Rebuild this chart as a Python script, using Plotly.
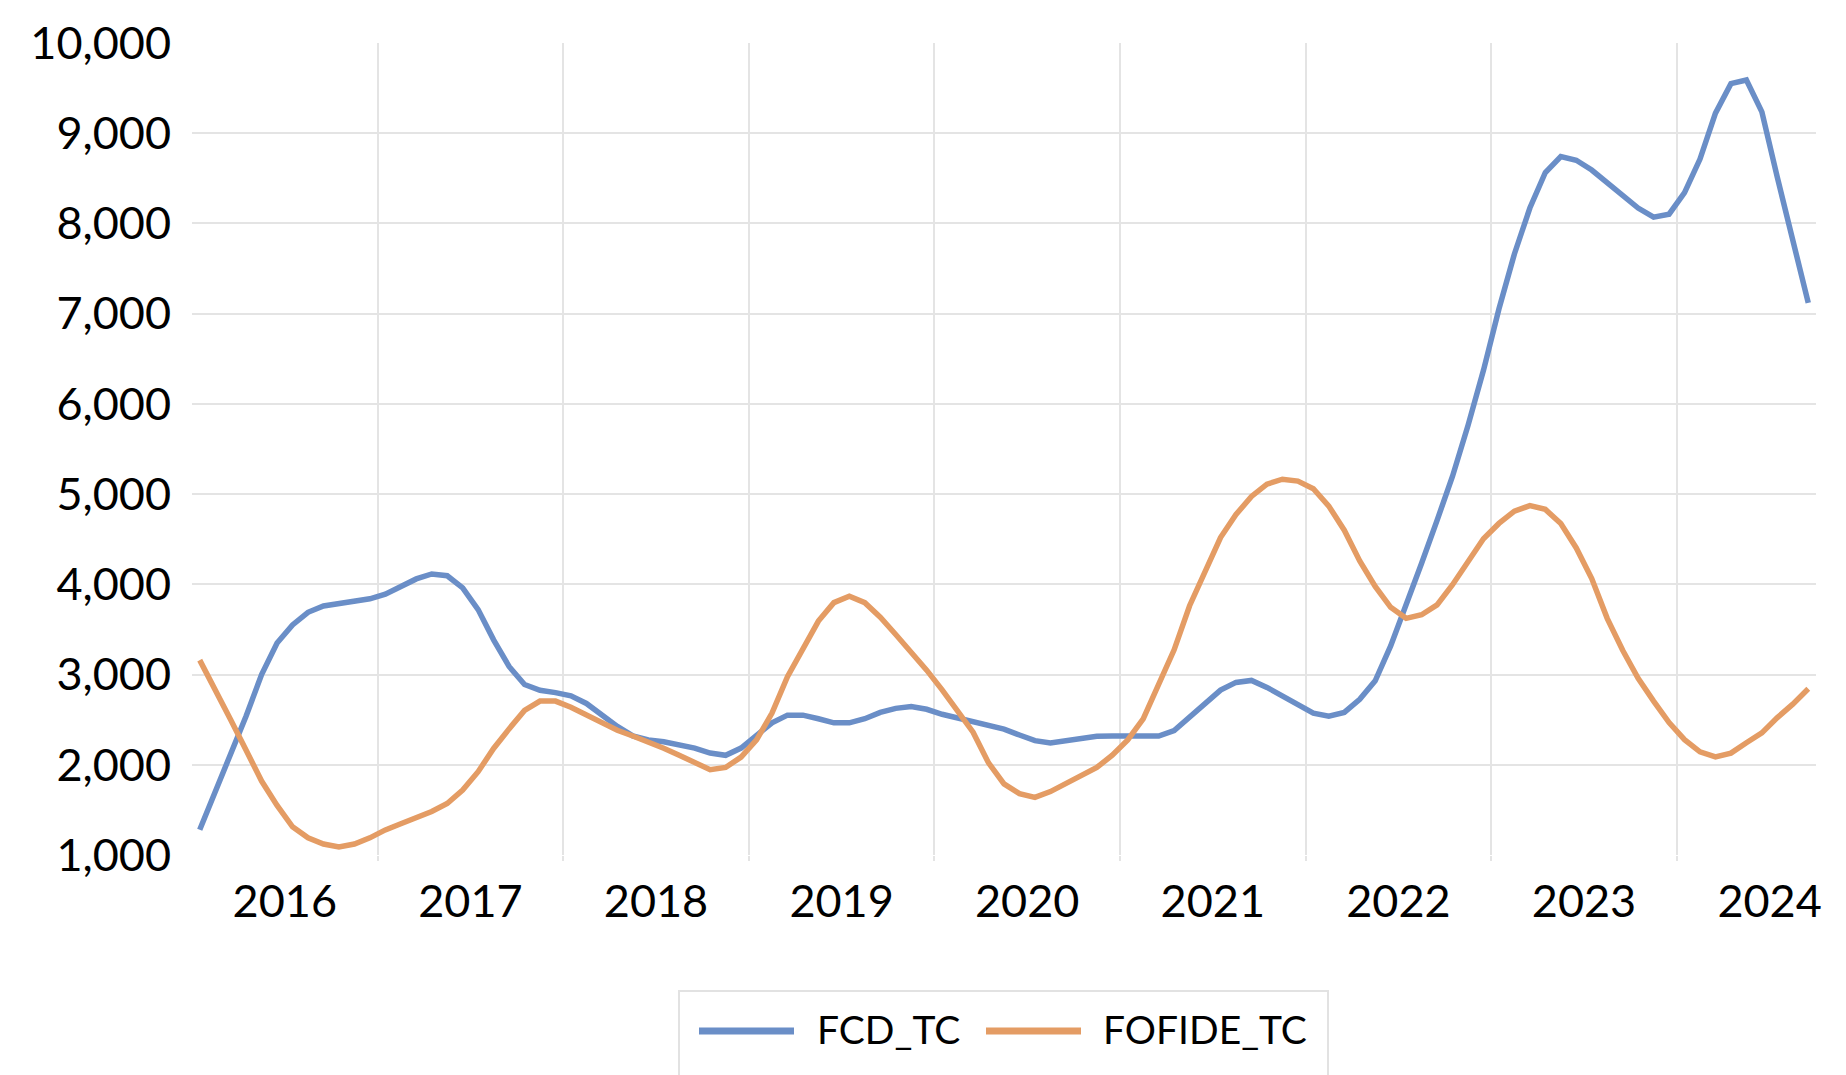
import plotly.graph_objects as go

# ---- data (monthly, Jan 2016 .. Sep 2024) ----
years = ["2016", "2017", "2018", "2019", "2020", "2021", "2022", "2023", "2024"]
months_per_year = [12, 12, 12, 12, 12, 12, 12, 12, 9]

fcd_tc = [
    1280, 1690, 2095, 2540, 3000, 3350, 3550, 3690, 3760, 3790, 3810, 3840,
    3890, 3970, 4060, 4115, 4095, 3960, 3720, 3385, 3090, 2890, 2825, 2800,
    2765, 2680, 2555, 2425, 2320, 2275, 2255, 2225, 2185, 2130, 2105, 2185,
    2320, 2465, 2550, 2550, 2510, 2465, 2465, 2510, 2580, 2625, 2645, 2615,
    2560, 2520, 2475, 2445, 2395, 2330, 2268, 2242, 2263, 2285, 2315, 2318,
    2318, 2318, 2318, 2380, 2530, 2680, 2828, 2913, 2935, 2858, 2765, 2658,
    2573, 2539, 2580, 2725, 2930, 3317, 3758, 4234, 4709, 5198, 5761, 6372,
    7051, 7662, 8171, 8565, 8741, 8701, 8592, 8456, 8320, 8171, 8069, 8103,
    8341, 8714, 9223, 9549, 9590, 9237, 8510, 7832, 7119,
]
fofide_tc = [
    3160, 2840, 2500, 2160, 1820, 1550, 1312, 1190, 1122, 1088, 1122, 1190,
    1278, 1346, 1414, 1482, 1570, 1720, 1923, 2181, 2398, 2602, 2706, 2706,
    2637, 2552, 2467, 2382, 2319, 2255, 2183, 2106, 2021, 1945, 1970, 2085,
    2276, 2573, 2977, 3296, 3593, 3797, 3869, 3797, 3635, 3444, 3253, 3049,
    2830, 2590, 2361, 2021, 1788, 1681, 1639, 1703, 1788, 1873, 1970, 2106,
    2276, 2510, 2892, 3274, 3763, 4145, 4519, 4774, 4974, 5110, 5165, 5144,
    5059, 4867, 4600, 4260, 3976, 3745, 3623, 3663, 3772, 3996, 4247, 4505,
    4675, 4811, 4872, 4831, 4675, 4403, 4064, 3623, 3270, 2958, 2706, 2468,
    2278, 2143, 2088, 2129, 2244, 2353, 2523, 2672, 2842,
]
y_ticks = [1000, 2000, 3000, 4000, 5000, 6000, 7000, 8000, 9000, 10000]

series_names = ["FCD_TC", "FOFIDE_TC"]
colors = ["#6A8EC7", "#E49C64"]

# ---- derived category positions ----
x_idx = list(range(len(fcd_tc)))
starts = []
s = 0
for n in months_per_year:
    starts.append(s)
    s += n
label_pos = [st + 5.5 for st in starts]
boundaries = [st - 0.5 for st in starts[1:]]

FONT = "Lato"
OFF = 8  # default page body margin
W, H = 1846 - OFF, 1075 - OFF
ML, MR, MT, MB = 192 - OFF, 30, 43 - OFF, 220

fig = go.Figure()
for name, vals, col in zip(series_names, [fcd_tc, fofide_tc], colors):
    fig.add_trace(go.Scatter(
        x=x_idx, y=vals, mode="lines", name=name,
        line=dict(color=col, width=5.5), showlegend=False,
    ))

grid_col = "#E4E4E4"
fig.update_layout(
    width=W, height=H,
    margin=dict(l=ML, r=MR, t=MT, b=MB, autoexpand=False),
    paper_bgcolor="white", plot_bgcolor="white",
    font=dict(family=FONT, color="black"),
    xaxis=dict(
        range=[-0.5, len(fcd_tc) - 0.5], automargin=False,
        tickmode="array", tickvals=label_pos, ticktext=years,
        showgrid=False, zeroline=False, showline=False, ticks="",
        tickfont=dict(family=FONT, size=45, color="black"),
        ticklabelstandoff=16,
        minor=dict(tickmode="array", tickvals=boundaries, showgrid=True,
                   gridcolor=grid_col, gridwidth=2, ticks="outside",
                   ticklen=5, tickwidth=2, tickcolor=grid_col),
    ),
    yaxis=dict(
        range=[1000, 10000], automargin=False,
        tickmode="array", tickvals=y_ticks, tickformat=",d",
        showgrid=False, zeroline=False, showline=False, ticks="",
        tickfont=dict(family=FONT, size=45, color="black"),
        ticklabelstandoff=20,
        minor=dict(tickmode="array", tickvals=y_ticks[1:-1], showgrid=True,
                   gridcolor=grid_col, gridwidth=2),
    ),
)

# ---- custom legend (paper coordinates from page-pixel layout) ----
pw = W - ML - MR
ph = H - MT - MB


def px(xp):
    return (xp - OFF - ML) / pw


def py(yp):
    return (H - MB - (yp - OFF)) / ph


fig.add_shape(type="rect", xref="paper", yref="paper",
              x0=px(679), x1=px(1328), y0=py(1090), y1=py(991),
              line=dict(color="#E2E2E2", width=2), fillcolor="rgba(0,0,0,0)")
legend_items = [(699, 794, 815), (986, 1081, 1101)]
for (lx0, lx1, tx), name, col in zip(legend_items, series_names, colors):
    fig.add_shape(type="line", xref="paper", yref="paper",
                  x0=px(lx0), x1=px(lx1), y0=py(1031), y1=py(1031),
                  line=dict(color=col, width=7))
    fig.add_annotation(xref="paper", yref="paper", x=px(tx), y=py(1029),
                       text=name, showarrow=False, xanchor="left",
                       yanchor="middle",
                       font=dict(family=FONT, size=39, color="black"))

fig.write_html("out.html")
